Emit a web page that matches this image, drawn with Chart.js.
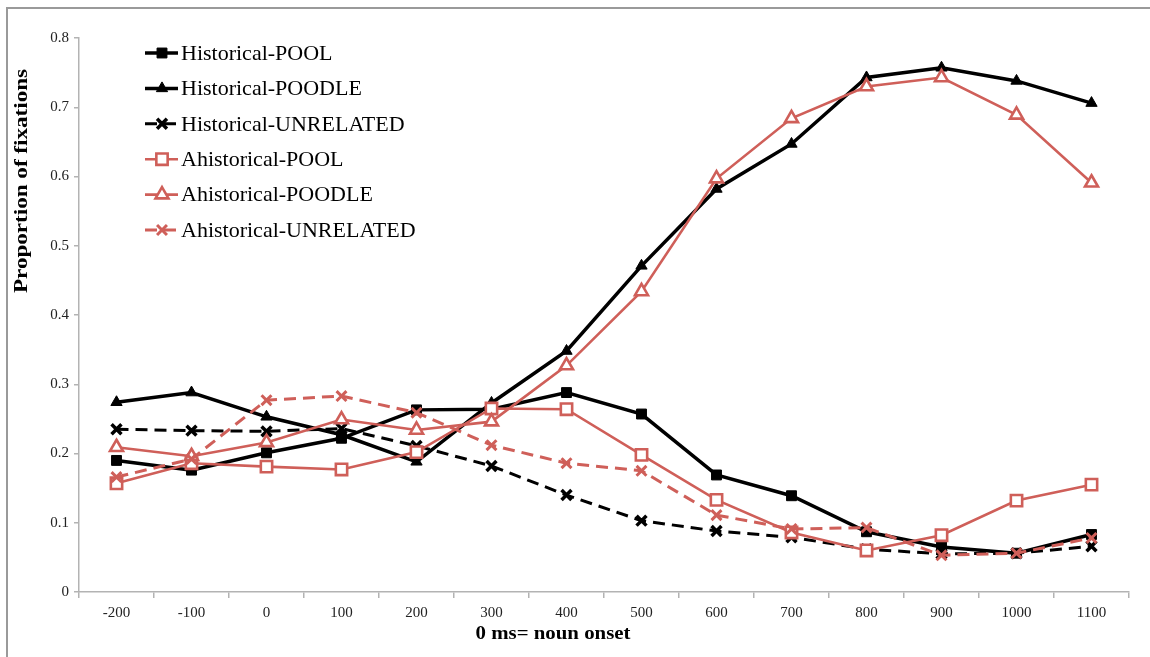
<!DOCTYPE html>
<html>
<head>
<meta charset="utf-8">
<script src="https://cdn.jsdelivr.net/npm/chart.js@4.4.1/dist/chart.umd.min.js"></script>
<style>
  html, body { margin: 0; padding: 0; background: #fff; }
  #wrap { position: relative; width: 1150px; height: 657px; }
</style>
</head>
<body>
<div id="wrap"><canvas id="chart" width="1150" height="657"></canvas></div>
<script>
// Time bins relative to noun onset (ms)
const categories = ['-200', '-100', '0', '100', '200', '300', '400', '500', '600', '700', '800', '900', '1000', '1100'];
const yTickLabels = ['0', '0.1', '0.2', '0.3', '0.4', '0.5', '0.6', '0.7', '0.8'];

// Proportion of fixations per condition
const histPool     = [0.190, 0.176, 0.201, 0.222, 0.263, 0.264, 0.288, 0.257, 0.169, 0.139, 0.087, 0.065, 0.056, 0.083];
const histPoodle   = [0.274, 0.288, 0.253, 0.227, 0.188, 0.273, 0.348, 0.471, 0.582, 0.647, 0.743, 0.757, 0.738, 0.706];
const histUnrel    = [0.235, 0.233, 0.232, 0.236, 0.211, 0.182, 0.140, 0.103, 0.088, 0.079, 0.062, 0.055, 0.056, 0.066];
const ahistPool    = [0.157, 0.186, 0.181, 0.177, 0.202, 0.265, 0.264, 0.198, 0.133, 0.086, 0.060, 0.082, 0.132, 0.155];
const ahistPoodle  = [0.209, 0.196, 0.216, 0.249, 0.234, 0.246, 0.327, 0.434, 0.597, 0.684, 0.730, 0.743, 0.689, 0.591];
const ahistUnrel   = [0.166, 0.192, 0.277, 0.283, 0.259, 0.212, 0.186, 0.175, 0.111, 0.091, 0.093, 0.053, 0.056, 0.078];

const BLACK = '#000000';
const RED = '#cf5f59';
const AXIS = '#b3b3b3';
const SERIF = '"Liberation Serif", "Times New Roman", serif';

function series(label, data, color, opts) {
  return Object.assign({
    label: label,
    data: data,
    borderColor: color,
    backgroundColor: color,
    pointBorderColor: color,
    fill: false,
    tension: 0,
    borderDash: [],
    pointHoverRadius: opts.pointRadius
  }, opts);
}

const datasets = [
  series('Historical-POOL', histPool, BLACK, {
    borderWidth: 3.5, pointStyle: 'rect', pointRadius: 7, pointBorderWidth: 1,
    pointBackgroundColor: BLACK, order: 6
  }),
  series('Historical-POODLE', histPoodle, BLACK, {
    borderWidth: 3.5, pointStyle: 'triangle', pointRadius: 6.5, pointBorderWidth: 1,
    pointBackgroundColor: BLACK, order: 5
  }),
  series('Historical-UNRELATED', histUnrel, BLACK, {
    borderWidth: 3, borderDash: [12, 7], pointStyle: 'crossRot', pointRadius: 7, pointBorderWidth: 3.5,
    pointBackgroundColor: BLACK, order: 4
  }),
  series('Ahistorical-POOL', ahistPool, RED, {
    borderWidth: 2.6, pointStyle: 'rect', pointRadius: 8, pointBorderWidth: 2.6,
    pointBackgroundColor: '#ffffff', order: 3
  }),
  series('Ahistorical-POODLE', ahistPoodle, RED, {
    borderWidth: 2.6, pointStyle: 'triangle', pointRadius: 7.5, pointBorderWidth: 2.6,
    pointBackgroundColor: '#ffffff', order: 2
  }),
  series('Ahistorical-UNRELATED', ahistUnrel, RED, {
    borderWidth: 3, borderDash: [12, 7], pointStyle: 'crossRot', pointRadius: 7, pointBorderWidth: 3,
    pointBackgroundColor: RED, order: 1
  })
];

// Marker shapes for the legend swatches
function drawMarker(ctx, style, x, y, r, fill, stroke, lw) {
  ctx.save();
  ctx.setLineDash([]);
  ctx.lineWidth = lw;
  ctx.strokeStyle = stroke;
  ctx.fillStyle = fill;
  ctx.beginPath();
  if (style === 'rect') {
    const s = r * Math.SQRT1_2;
    ctx.rect(x - s, y - s, 2 * s, 2 * s);
    ctx.fill(); ctx.stroke();
  } else if (style === 'triangle') {
    ctx.moveTo(x, y - r);
    ctx.lineTo(x + r * Math.cos(Math.PI / 6), y + r / 2);
    ctx.lineTo(x - r * Math.cos(Math.PI / 6), y + r / 2);
    ctx.closePath();
    ctx.fill(); ctx.stroke();
  } else if (style === 'crossRot') {
    const s = r * Math.SQRT1_2;
    ctx.moveTo(x - s, y - s); ctx.lineTo(x + s, y + s);
    ctx.moveTo(x - s, y + s); ctx.lineTo(x + s, y - s);
    ctx.stroke();
  }
  ctx.restore();
}

// Text squeezed / stretched along its baseline to a given width
function fitText(ctx, text, cx, cy, font, width, angle) {
  ctx.save();
  ctx.translate(cx, cy);
  if (angle) ctx.rotate(angle);
  ctx.font = font;
  const w = ctx.measureText(text).width;
  ctx.scale(width / w, 1);
  ctx.fillStyle = '#000';
  ctx.textAlign = 'center';
  ctx.textBaseline = 'middle';
  ctx.fillText(text, 0, 0);
  ctx.restore();
}

const decorations = {
  id: 'decorations',
  beforeDraw(chart) {
    const ctx = chart.ctx;
    ctx.save();
    ctx.fillStyle = '#ffffff';
    ctx.fillRect(0, 0, chart.width, chart.height);
    // outer frame (top and left edges)
    ctx.strokeStyle = '#9a9a9a';
    ctx.lineWidth = 2;
    ctx.beginPath();
    ctx.moveTo(7, 657);
    ctx.lineTo(7, 8);
    ctx.lineTo(1150, 8);
    ctx.stroke();
    ctx.restore();
  },
  afterDraw(chart) {
    const ctx = chart.ctx;
    // axis titles
    fitText(ctx, 'Proportion of fixations', 22, 181, 'bold 18px ' + SERIF, 224, -Math.PI / 2);
    fitText(ctx, '0 ms= noun onset', 553, 634, 'bold 19px ' + SERIF, 155, 0);

    // legend
    chart.data.datasets.forEach((ds, i) => {
      const y = 53 + i * 35.4;
      ctx.save();
      ctx.strokeStyle = ds.borderColor;
      ctx.lineWidth = ds.borderWidth;
      ctx.setLineDash(ds.borderDash || []);
      ctx.beginPath();
      ctx.moveTo(145, y);
      ctx.lineTo(178, y);
      ctx.stroke();
      ctx.restore();
      drawMarker(ctx, ds.pointStyle, 162, y, ds.pointRadius, ds.pointBackgroundColor,
                 ds.pointBorderColor, ds.pointBorderWidth);
      ctx.save();
      ctx.font = '22px ' + SERIF;
      ctx.fillStyle = '#000';
      ctx.textAlign = 'left';
      ctx.textBaseline = 'middle';
      ctx.fillText(ds.label, 181, y + 1);
      ctx.restore();
    });
  }
};

new Chart(document.getElementById('chart'), {
  type: 'line',
  data: { labels: categories, datasets: datasets },
  options: {
    responsive: false,
    animation: false,
    events: [],
    layout: { padding: { top: 38, right: 21, left: 0, bottom: 0 } },
    plugins: { legend: { display: false }, tooltip: { enabled: false } },
    scales: {
      x: {
        type: 'category',
        offset: true,
        grid: {
          display: true, offset: true, drawOnChartArea: false, drawTicks: true,
          tickLength: 6, color: AXIS, lineWidth: 1.5
        },
        border: { display: true, color: AXIS, width: 1.5 },
        ticks: {
          font: { family: SERIF, size: 15 }, color: '#222', padding: 6,
          maxRotation: 0, autoSkip: false
        },
        afterFit(scale) { scale.height = 65; }
      },
      y: {
        min: 0, max: 0.8,
        grid: {
          display: true, drawOnChartArea: false, drawTicks: true,
          tickLength: 5, color: AXIS, lineWidth: 1.5
        },
        border: { display: true, color: AXIS, width: 1.5 },
        ticks: {
          stepSize: 0.1,
          font: { family: SERIF, size: 15 }, color: '#222', padding: 5,
          callback: (v) => yTickLabels[Math.round(v * 10)]
        },
        afterFit(scale) { scale.width = 79; }
      }
    }
  },
  plugins: [decorations]
});
</script>
</body>
</html>
